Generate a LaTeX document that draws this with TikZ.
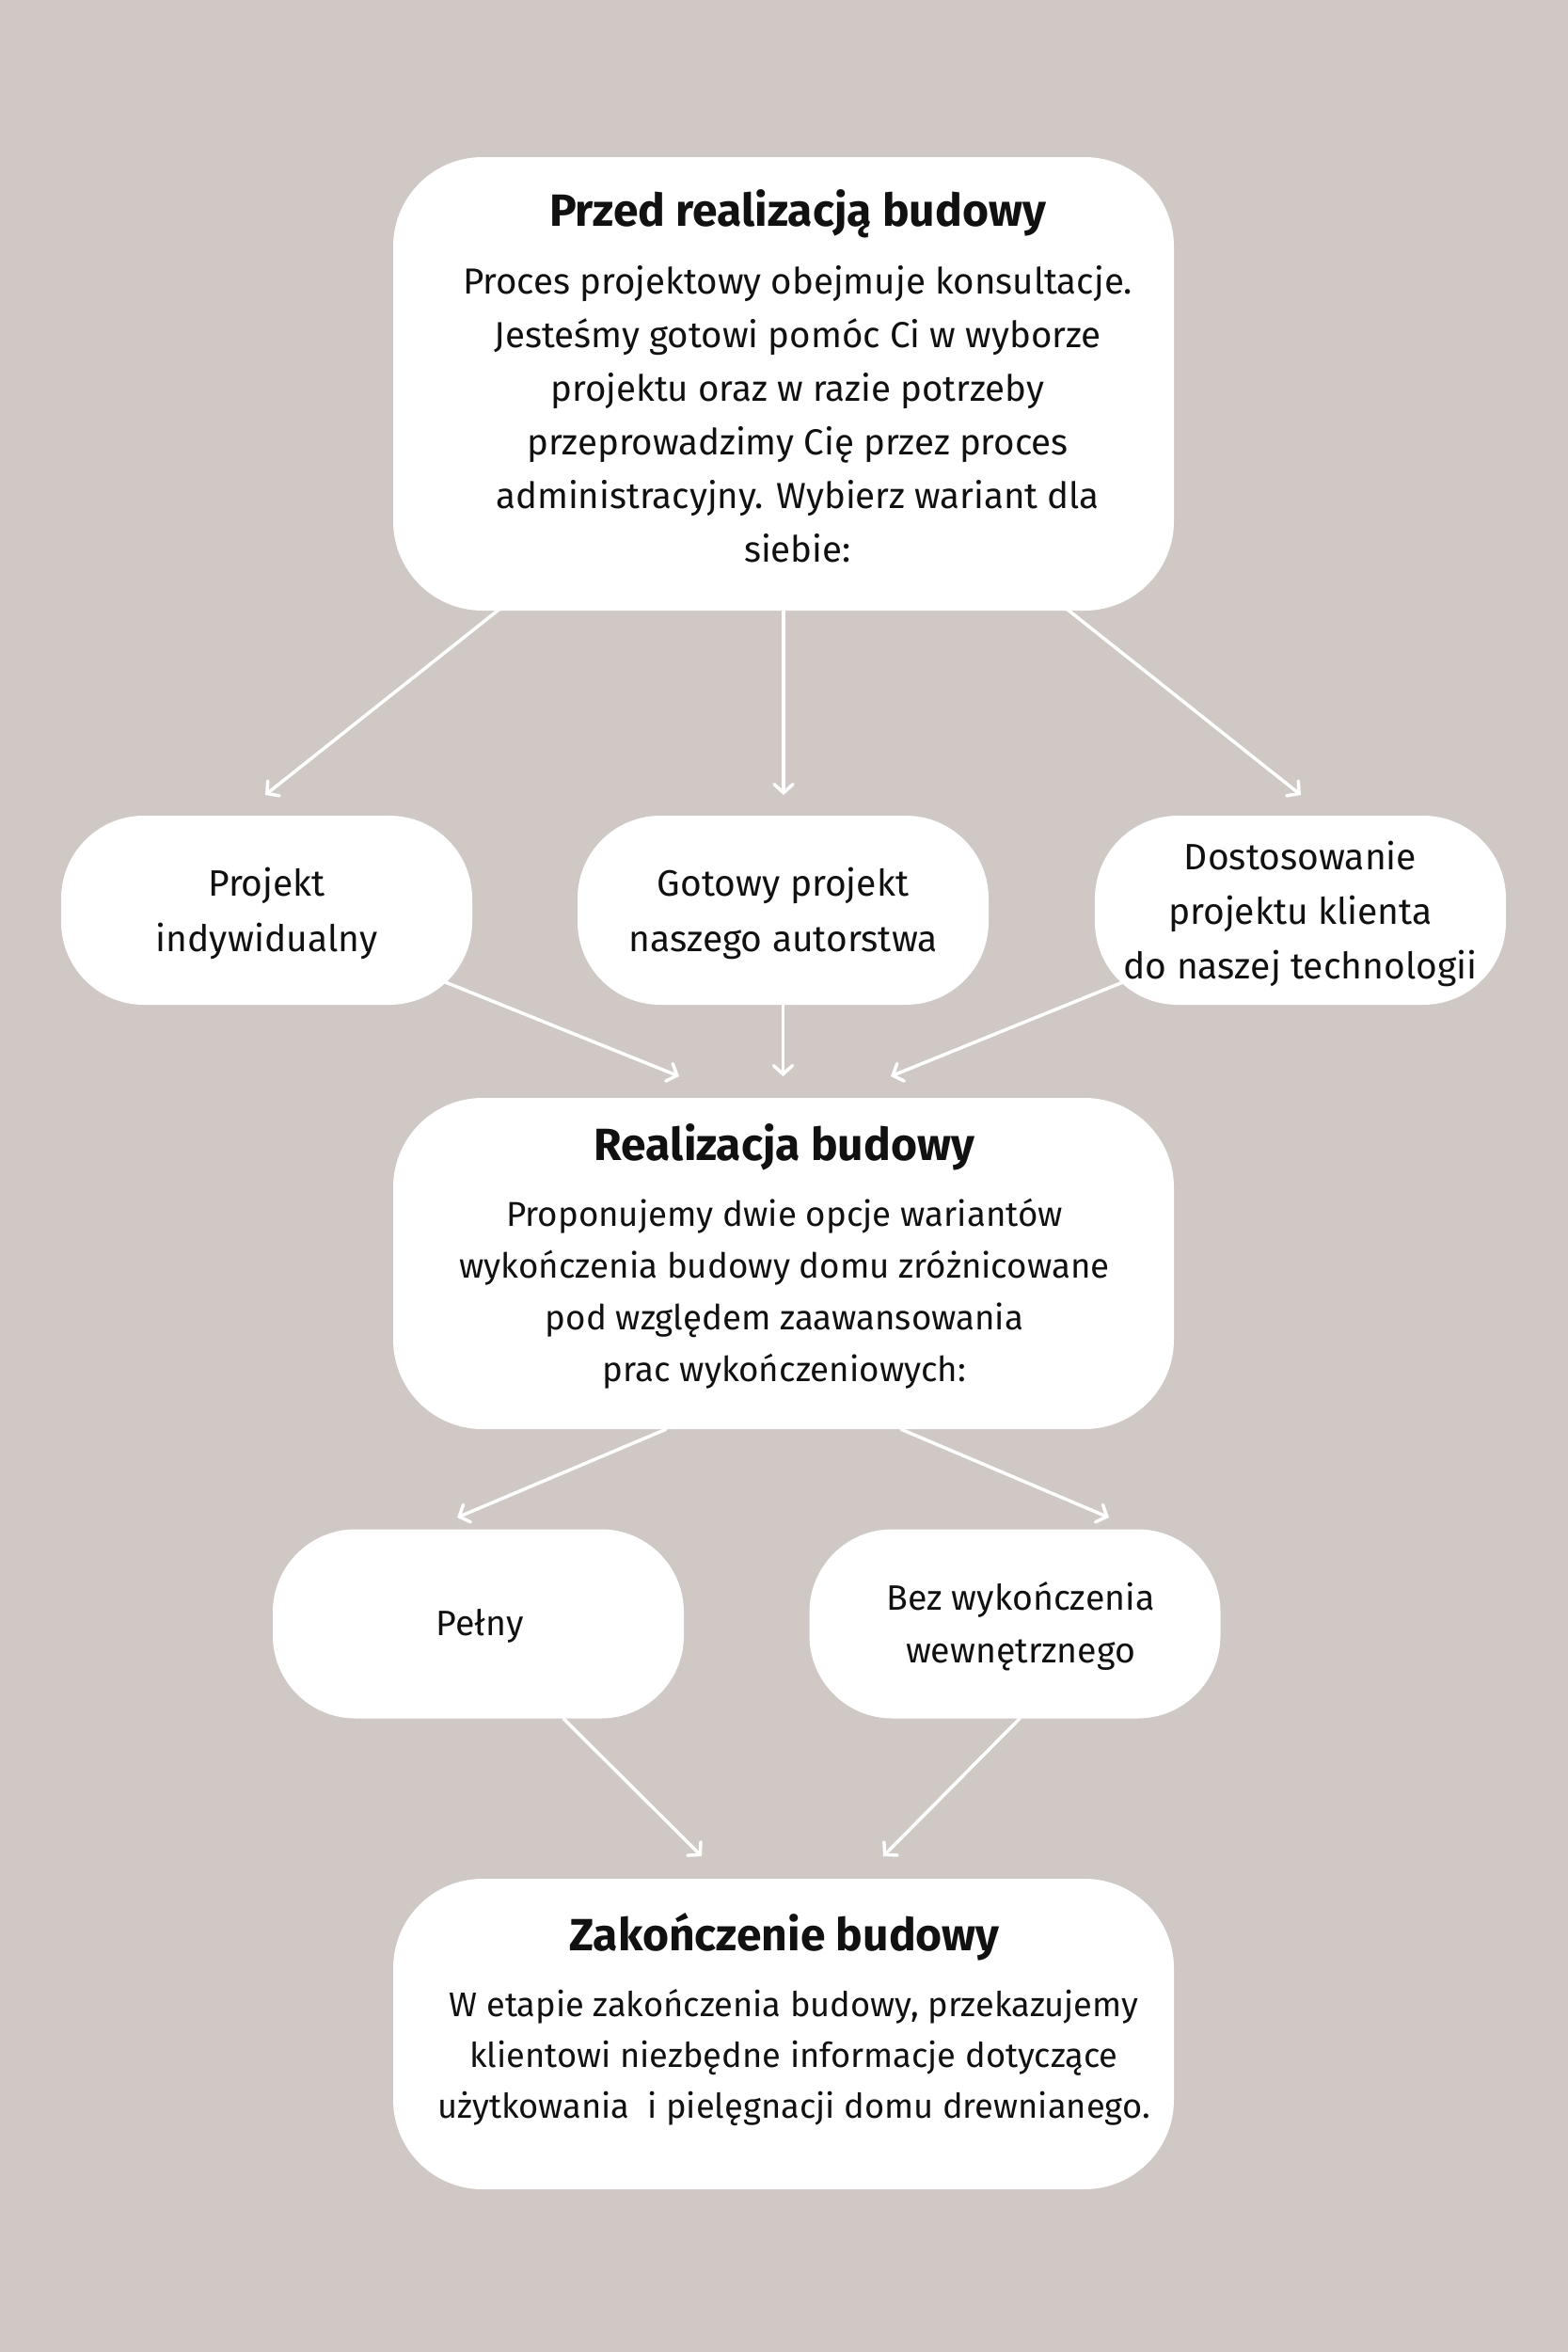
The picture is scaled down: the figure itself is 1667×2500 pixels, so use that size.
\documentclass[tikz,border=0pt]{standalone}
\usepackage{fontspec}
\setmainfont{Fira Sans}
\usetikzlibrary{arrows.meta}
\definecolor{bg}{RGB}{207,200,196}
\definecolor{ink}{RGB}{17,17,17}
\pgfdeclarelayer{back}
\pgfdeclarelayer{links}
\pgfsetlayers{back,links,main}
\tikzset{
  bigbox/.style={fill=white, draw=none, rounded corners=95pt, minimum width=830pt, inner sep=0pt},
  smallbox/.style={fill=white, draw=none, rounded corners=88pt, minimum width=437pt, minimum height=201pt, inner sep=0pt},
  title/.style={anchor=base, inner sep=0pt, text=ink, font=\bfseries\fontsize{48}{55}\selectfont},
  body/.style 2 args={anchor=base, inner sep=0pt, text=ink, align=center, font=\fontsize{#1}{#2}\selectfont},
  label/.style={anchor=base, inner sep=0pt, text=ink, align=center, font=\fontsize{39}{#1}\selectfont},
  arr/.style={draw=white, line width=3.5pt, line cap=round, -{Straight Barb[length=9pt,width=20pt,line cap=round]}}
}
\begin{document}
\begin{tikzpicture}[x=1pt,y=-1pt]
\begin{pgfonlayer}{back}
\fill[bg] (0,0) rectangle (1667,2500);
\end{pgfonlayer}
\useasboundingbox (0,0) rectangle (1667,2500);

% boxes
\node[bigbox, minimum height=482pt] (top) at (833,408) {};
\node[smallbox] (p1) at (283.5,967.5) {};
\node[smallbox] (p2) at (832.5,967.5) {};
\node[smallbox] (p3) at (1382.5,967.5) {};
\node[bigbox, minimum height=352pt] (mid) at (833,1343) {};
\node[smallbox] (q1) at (508.5,1726) {};
\node[smallbox] (q2) at (1079,1726) {};
\node[bigbox, minimum height=330pt] (bot) at (833,2162) {};

% texts (base anchor = baseline of last line)
\node[title] (topT) at (848,240) {Przed realizacją budowy};
\node[body={38.5}{57}] (topB) at (848,597) {Proces projektowy obejmuje konsultacje.\\Jesteśmy gotowi pomóc Ci w wyborze\\projektu oraz w razie potrzeby\\przeprowadzimy Cię przez proces\\administracyjny. Wybierz wariant dla\\siebie:};

\node[label=59] (p1T) at (283.5,1011) {Projekt\\indywidualny};
\node[label=59] (p2T) at (832.5,1011) {Gotowy projekt\\naszego autorstwa};
\node[label=58] (p3T) at (1382.5,1040) {Dostosowanie\\projektu klienta\\do naszej technologii};

\node[title] (midT) at (834,1233) {Realizacja budowy};
\node[body={36.7}{55}] (midB) at (834,1468) {Proponujemy dwie opcje wariantów\\wykończenia budowy domu zróżnicowane\\pod względem zaawansowania\\prac wykończeniowych:};

\node[body={37.5}{56}] (q1T) at (510,1738) {Pełny};
\node[body={37.5}{56}] (q2T) at (1085,1767) {Bez wykończenia\\wewnętrznego};

\node[title] (botT) at (834,2073) {Zakończenie budowy};
\node[body={36.3}{54}] (botB) at (844,2251) {W etapie zakończenia budowy, przekazujemy\\klientowi niezbędne informacje dotyczące\\użytkowania\ \ i pielęgnacji domu drewnianego.};

% connectors
\coordinate (t1) at (282,845);
\coordinate (t2) at (833,845);
\coordinate (t3) at (1383,845);
\coordinate (m1) at (722,1144);
\coordinate (m2) at (832.5,1144);
\coordinate (m3) at (947,1144);
\coordinate (r1) at (486,1613);
\coordinate (r2) at (1179,1613);
\coordinate (b1) at (746,1973);
\coordinate (b2) at (939,1973);
\begin{pgfonlayer}{links}
\draw[arr] (top.center) -- (t1);
\draw[arr] (top.center) -- (t2);
\draw[arr] (top.center) -- (t3);
\draw[arr] (p1.center) -- (m1);
\draw[arr] (p2.center) -- (m2);
\draw[arr] (p3.center) -- (m3);
\draw[arr] ([xshift=-125pt]mid.south) -- (r1);
\draw[arr] ([xshift=125pt]mid.south) -- (r2);
\draw[arr] ([xshift=90.5pt]q1.south) -- (b1);
\draw[arr] ([xshift=5pt]q2.south) -- (b2);
\end{pgfonlayer}
\end{tikzpicture}
\end{document}
